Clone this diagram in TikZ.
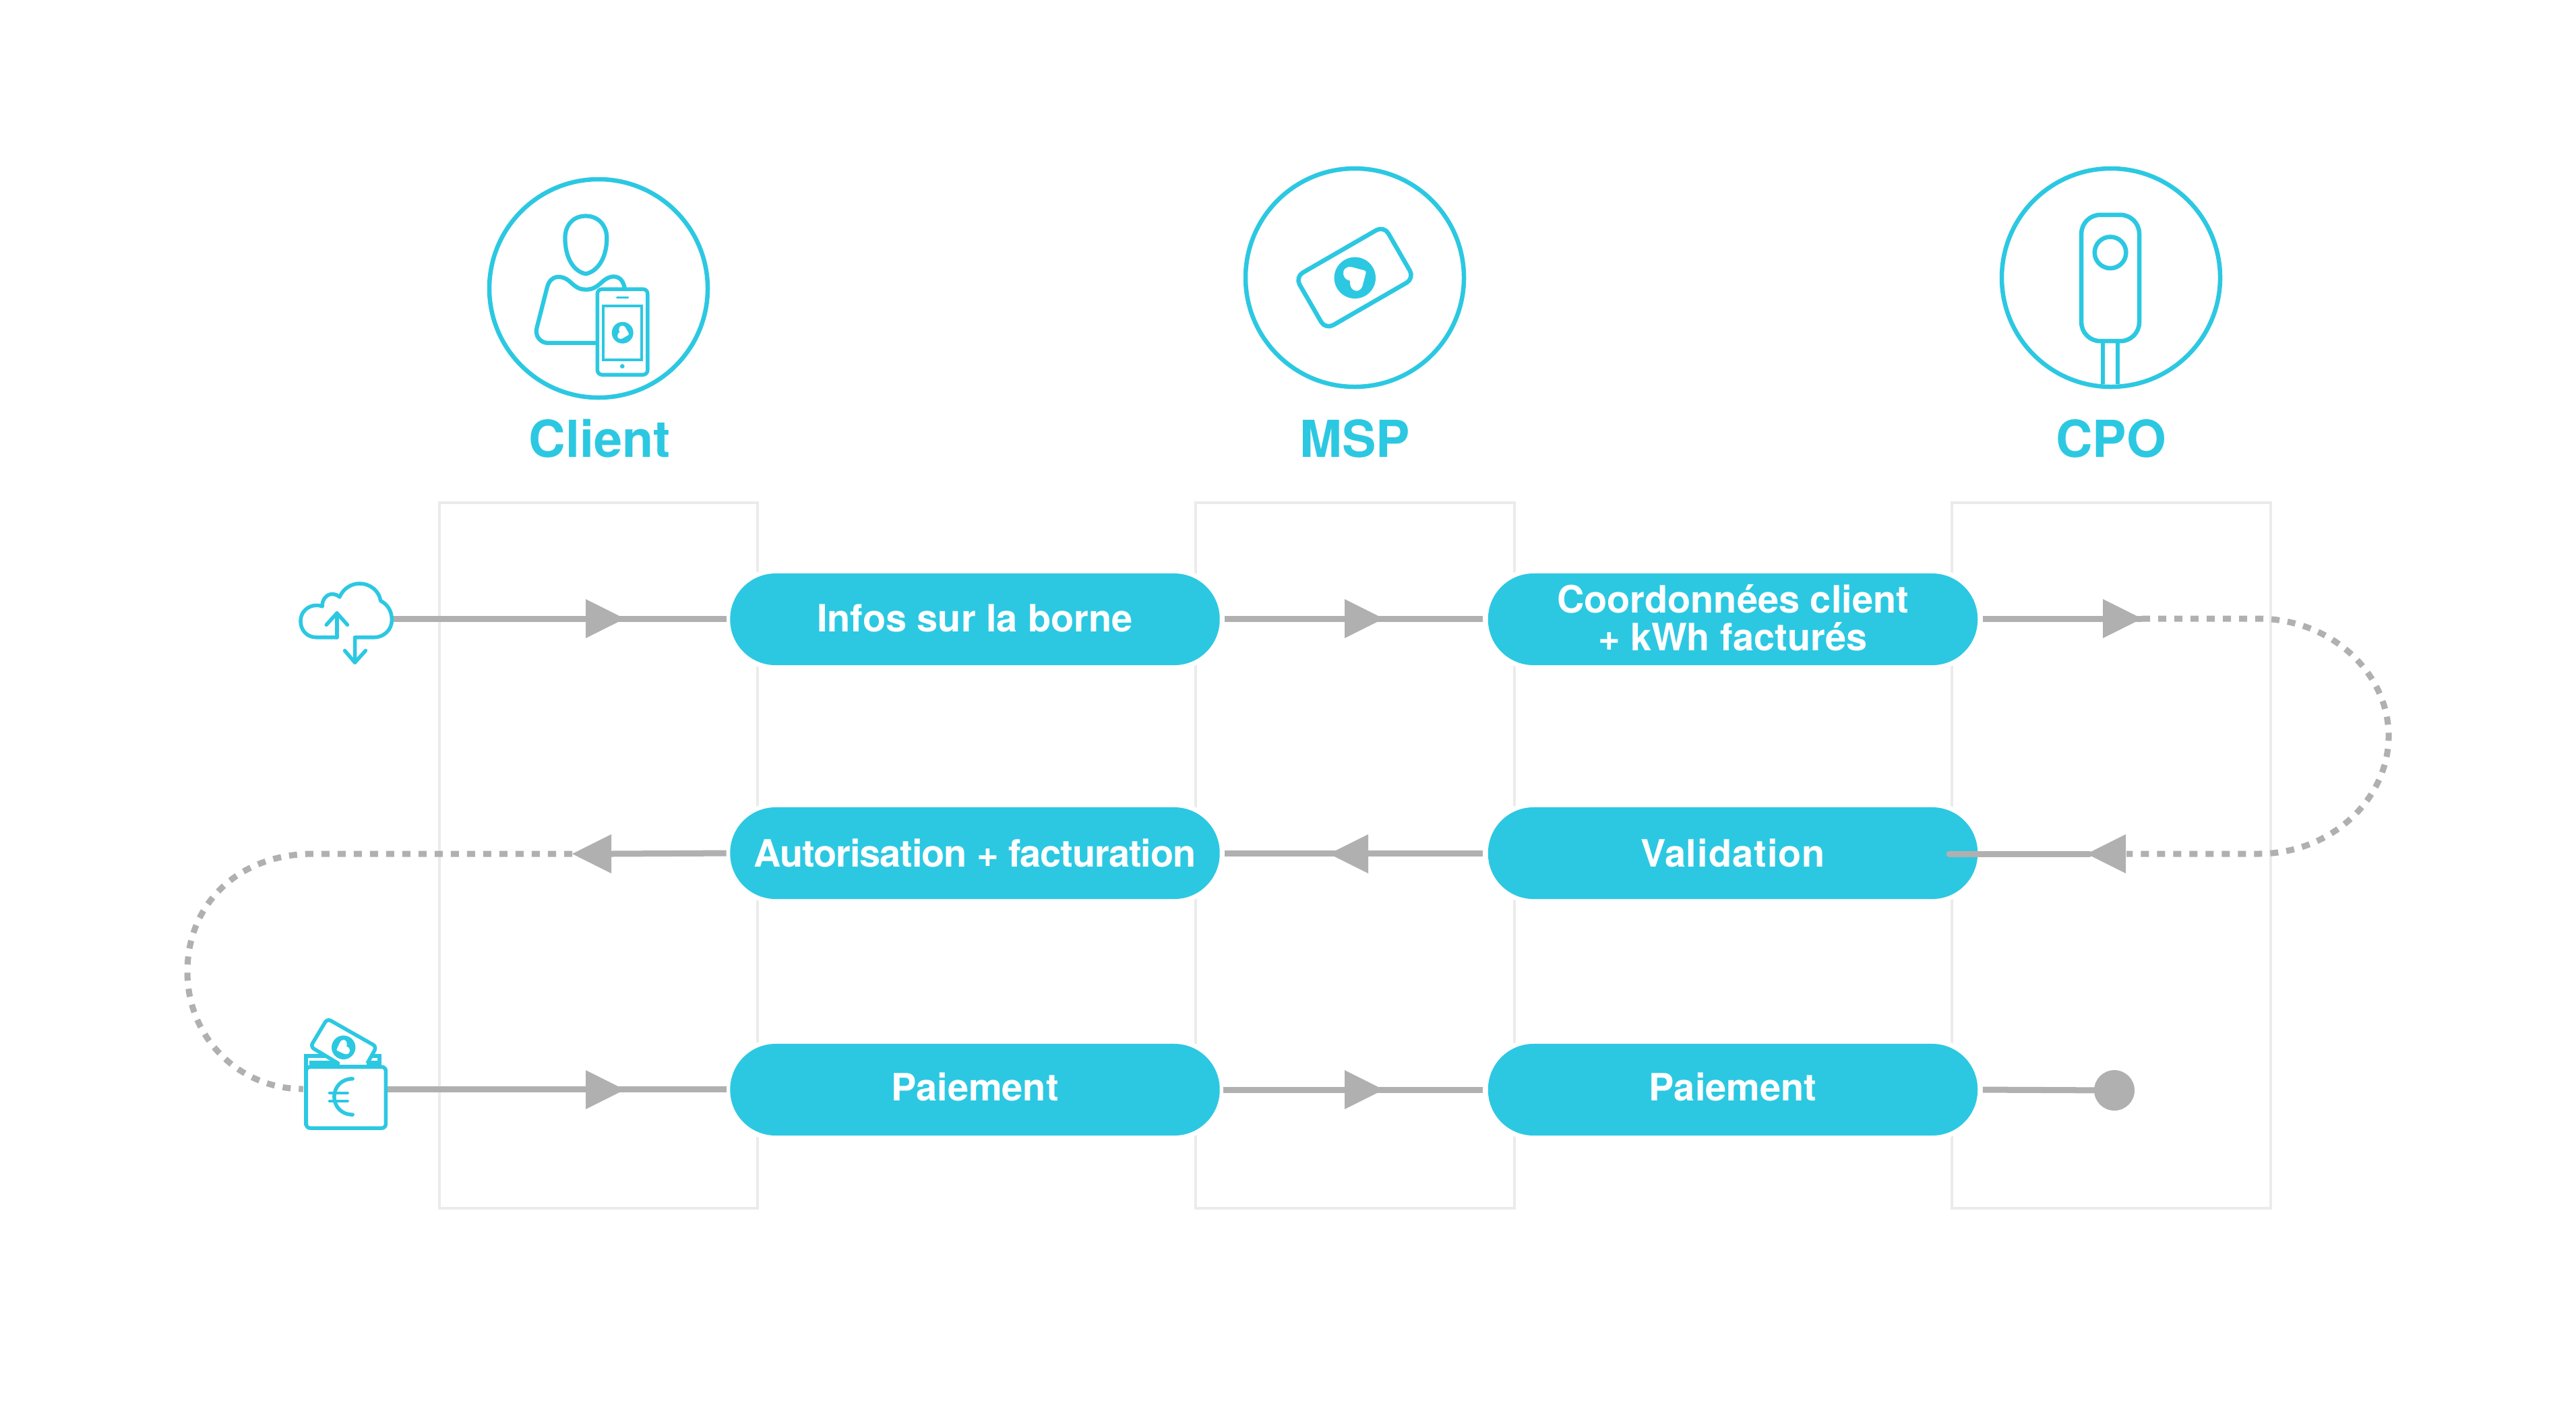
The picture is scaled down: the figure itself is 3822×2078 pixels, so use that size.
\documentclass[tikz,border=0pt]{standalone}
\usepackage{fontspec}
\setmainfont{TeX Gyre Heros}
\definecolor{cy}{HTML}{2CC8E2}
\definecolor{gr}{HTML}{B0B0B0}
\definecolor{bx}{HTML}{EBEBEB}
\tikzset{
  pill/.style={rounded corners=0.675cm,minimum width=7.26cm,minimum height=1.36cm,inner sep=0pt,fill=cy,
    preaction={draw=white,line width=0.14cm}},
  plabel/.style={text=white,inner sep=0pt,align=center,font=\fontsize{15.9}{15.9}\selectfont\bfseries},
  title/.style={text=cy,font=\fontsize{21.5}{21.5}\selectfont\bfseries,inner sep=0pt},
  lane/.style={draw=bx,line width=0.04cm},
  conn/.style={draw=gr,line width=0.09cm},
  dots/.style={draw=gr,line width=0.09cm,dash pattern=on 0.12cm off 0.12cm},
  ring/.style={draw=cy,line width=0.065cm},
  ico/.style={draw=cy,line width=0.055cm,line cap=round,line join=round},
  thin ico/.style={draw=cy,line width=0.04cm},
  zoomed/.style={shift={#1},x=0.0033333cm,y=-0.0033333cm}
}
\newcommand\tipR[2]{\fill[gr] (#1-58,#2-29) -- (#1,#2) -- (#1-58,#2+29) -- cycle;}
\newcommand\tipL[2]{\fill[gr] (#1+58,#2-29) -- (#1,#2) -- (#1+58,#2+29) -- cycle;}
\newcommand\heartlogo[4]{%
  \fill[cy] (#1,#2) circle[radius=#3];
  \begin{scope}[shift={(#1,#2)},rotate=#4,scale=#3]
  \fill[white] (0.45,-0.36) -- (-0.15,-0.52) .. controls (-0.4,-0.58) and (-0.6,-0.4) .. (-0.56,-0.18)
    .. controls (-0.53,0.02) and (-0.38,0.12) .. (-0.23,0.14)
    .. controls (-0.28,0.4) and (-0.12,0.63) .. (0.07,0.63)
    .. controls (0.22,0.63) and (0.33,0.52) .. (0.37,0.37) -- (0.53,-0.24)
    .. controls (0.55,-0.3) and (0.5,-0.35) .. cycle;
  \end{scope}}
\begin{document}
\begin{tikzpicture}[x=0.01cm,y=-0.01cm]
\useasboundingbox (0,0) rectangle (3822,2078);
\fill[white] (0,0) rectangle (3822,2078);
% lanes
\draw[lane] (652,746) rectangle (1124,1793);
\draw[lane] (1774,746) rectangle (2247,1793);
\draw[lane] (2896,746) rectangle (3369,1793);

% rings and titles
\draw[ring] (888,428) circle[radius=162];
\draw[ring] (2010,412) circle[radius=162];
\draw[ring] (3132,412) circle[radius=162];
\node[title,anchor=base] (tclient) at (890,678) {Client};
\node[title,anchor=base] (tmsp) at (2010,678) {MSP};
\node[title,anchor=base] (tcpo) at (3132,678) {CPO};

% person + phone
\begin{scope}[zoomed={(680,220)}]
\draw[ring,line width=0.062cm] (568,302) .. controls (510,302) and (476,345) .. (476,400)
  .. controls (476,490) and (515,550) .. (568,560) .. controls (620,550) and (662,490) .. (662,400)
  .. controls (662,345) and (625,302) .. (568,302);
\draw[ring,line width=0.062cm] (614,868) -- (398,868) .. controls (365,868) and (340,835) .. (350,800)
  -- (396,620) .. controls (410,565) and (460,560) .. (500,597) .. controls (530,625) and (545,630) .. (568,630)
  .. controls (592,630) and (610,625) .. (640,597) .. controls (680,560) and (730,560) .. (742,625);
\draw[ico,rounded corners=0.07cm,fill=white] (620,628) rectangle (844,1010);
\draw[thin ico] (645,704) rectangle (816,942);
\draw[ico,line width=0.025cm] (707,665) -- (757,665);
\fill[cy] (731,972) circle[radius=10];
\end{scope}
\heartlogo{923.7}{493.7}{16}{-45}

% card
\begin{scope}[shift={(2010,412)},rotate=30]
\draw[ring,rounded corners=0.13cm] (-76,-45) rectangle (76,45);
\end{scope}
\heartlogo{2010.3}{412.3}{30.7}{0}

% charger
\begin{scope}[zoomed={(2950,220)}]
\draw[ring,rounded corners=0.28cm] (415,297) rectangle (673,860);
\draw[ring] (544,465) circle[radius=70];
\draw[ring] (511,860) -- (511,1052);
\draw[ring] (577,860) -- (577,1052);
\end{scope}

% connector end points
\coordinate (cloudR) at (583,918);
\coordinate (walletR) at (575,1616);
\coordinate (stopdot) at (3137,1618);

% pills
\node[pill] (p11) at (1446.5,919) {};
\node[pill] (p12) at (2571,919) {};
\node[pill] (p21) at (1446.5,1266) {};
\node[pill] (p22) at (2571,1266) {};
\node[pill] (p31) at (1446.5,1617) {};
\node[pill] (p32) at (2571,1617) {};
\node[plabel,yshift=0.02cm] (l11) at (p11) {Infos sur la borne};
\node[plabel,yshift=0.02cm] (l12) at (p12) {Coordonnées client\\+ kWh facturés};
\node[plabel] (l21) at (p21) {\addfontfeature{LetterSpace=-2}Autorisation + facturation};
\node[plabel] (l22) at (p22) {\addfontfeature{LetterSpace=1.8}Validation};
\node[plabel,yshift=0.04cm] (l31) at (p31) {Paiement};
\node[plabel,yshift=0.04cm] (l32) at (p32) {Paiement};

% row 1
\coordinate (t1c) at (3178,918);
\draw[conn,shorten >=0.05cm] (cloudR) -- (p11.west |- cloudR);
\draw[conn,shorten <=0.07cm,shorten >=0.07cm] (p11.east |- cloudR) -- (p12.west |- cloudR);
\draw[conn,shorten <=0.07cm] (p12.east |- cloudR) -- (t1c);
\tipR{927}{918} \tipR{2053}{918} \tipR{3178}{918}
% dotted right
\coordinate (t2c) at (3100,1267);
\draw[dots] (t1c) -- (3350,918) .. controls (3460,918) and (3544,1000) .. (3544,1092)
  .. controls (3544,1185) and (3460,1267) .. (3350,1267) -- (3155,1267);
% row 2
\draw[conn,line cap=round] (2892,1267) -- (t2c);
\tipL{3096}{1267}
\draw[conn,shorten <=0.07cm,shorten >=0.07cm] (p22.west) -- (p21.east);
\tipL{1972}{1267}
\coordinate (t2a) at (905,1267);
\draw[conn,shorten <=0.05cm] (p21.west) -- (t2a);
\tipL{849}{1267}
% dotted left
\draw[dots] (849,1267) -- (465,1267) .. controls (355,1267) and (278,1340) .. (278,1442)
  .. controls (278,1540) and (355,1616) .. (450,1616);
% row 3
\draw[conn,shorten >=0.05cm] (walletR) -- (p31.west |- walletR);
\draw[conn,shorten <=0.05cm,shorten >=0.07cm] (p31.east) -- (p32.west);
\draw[conn,shorten <=0.07cm] (p32.east) -- (stopdot);
\tipR{927}{1617} \tipR{2053}{1617}
\fill[gr] (stopdot) circle[radius=30];

% cloud
\begin{scope}[zoomed={(420,840)}]
\draw[ico] (240,318) -- (150,318) .. controls (105,318) and (78,285) .. (78,245)
  .. controls (78,205) and (110,175) .. (150,175) .. controls (160,175) and (168,177) .. (175,180)
  .. controls (172,150) and (195,125) .. (218,125) .. controls (232,125) and (243,130) .. (252,138)
  .. controls (268,100) and (305,78) .. (340,78) .. controls (390,78) and (428,112) .. (435,155)
  .. controls (465,170) and (485,200) .. (485,240) .. controls (485,285) and (448,318) .. (405,318)
  -- (320,318) -- (320,430);
\draw[ico] (275,377) -- (320,430) -- (368,377);
\draw[ico] (240,318) -- (240,210);
\draw[ico] (193,262) -- (240,210) -- (287,262);
\end{scope}

% wallet
\begin{scope}[zoomed={(420,1490)}]
\draw[ico,line join=miter,line cap=butt,fill=white] (102,540) -- (102,232) -- (430,232) -- (430,285);
\fill[cy] (118,252) rectangle (435,285);
\draw[ico,fill=white,rounded corners=0.06cm] (247,265) -- (122,190) -- (197,65) -- (417,190) -- (375,265);
\fill[white] (252,260) rectangle (372,271);
\draw[ico,rounded corners=0.06cm,fill=white] (103,280) rectangle (458,553);
\draw[ico] (310,333) .. controls (260,333) and (228,370) .. (228,413) .. controls (228,456) and (260,493) .. (310,493);
\draw[ico,line width=0.04cm] (207,396) -- (288,396);
\draw[ico,line width=0.04cm] (207,433) -- (288,433);
\end{scope}
\heartlogo{509.7}{1554.3}{17.7}{170}
\end{tikzpicture}
\end{document}
